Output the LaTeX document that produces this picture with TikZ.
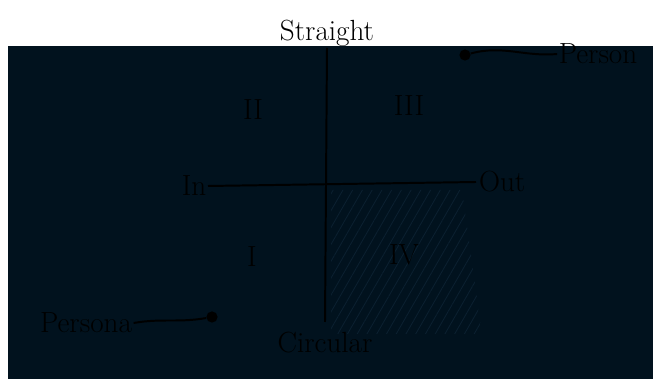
\documentclass[tikz,border=0pt]{standalone}
\usepackage{tikz}
\usetikzlibrary{positioning}
\usetikzlibrary{patterns.meta}

\definecolor{board}{HTML}{01121E}
\definecolor{hatch}{HTML}{0B2030}

\begin{document}
\begin{tikzpicture}[x=0.025cm, y=-0.025cm,
    axis/.style={line width=1.4pt, black},
    label/.style={font=\huge, text=black, inner sep=1pt},
    numeral/.style={font=\huge, text=black, inner sep=1pt},
    dot/.style={circle, fill=black, minimum size=0.28cm, inner sep=0pt}]

    \useasboundingbox (0,0) rectangle (653,379);
    \fill[board] (8,46) rectangle (653,379);
    \fill[pattern={Lines[angle=60, distance=6pt, line width=0.6pt]}, pattern color=hatch]
        (331,190) -- (462,190) -- (482,334) -- (331,334) -- cycle;

    \coordinate (top) at (327,48);
    \coordinate (bottom) at (325,322);
    \coordinate (left) at (208,186);
    \coordinate (right) at (476,182);

    \draw[axis] (top) -- (bottom);
    \draw[axis] (left) -- (right);

    \node[label, above=0pt of top] (straight) {Straight};
    \node[label, below=6pt of bottom] (circular) {Circular};
    \node[label, left=0pt of left] (in) {In};
    \node[label, right=1pt of right] (out) {Out};

    \node[numeral] (q1) at (252,257) {I};
    \node[numeral] (q2) at (253,110) {II};
    \node[numeral] (q3) at (409,106) {III};
    \node[numeral] (q4) at (404,255) {IV};

    \node[dot] (dotT) at (465,55) {};
    \node[label] (personT) at (598,54) {Person};
    \draw[axis] (dotT) to[out=15, in=185] (personT.west);

    \node[dot] (dotB) at (212,317) {};
    \node[label] (personB) at (86,323) {Persona};
    \draw[axis] (personB.east) to[out=10, in=190] (dotB);

\end{tikzpicture}
\end{document}
